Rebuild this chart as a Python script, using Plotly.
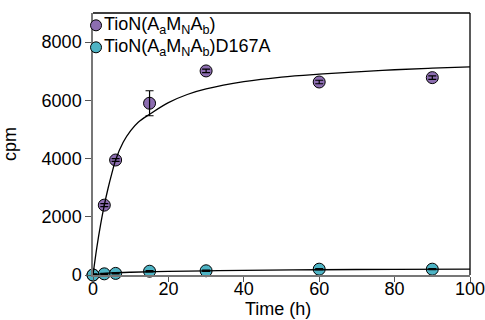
import plotly.graph_objects as go

# Measured data
time_h = [0, 3, 6, 15, 30, 60, 90]
wt_cpm = [0, 2400, 3950, 5900, 7010, 6630, 6780]
wt_err = [40, 50, 50, 430, 60, 60, 60]
mut_cpm = [0, 40, 55, 130, 145, 200, 200]
mut_err = [20, 20, 20, 20, 20, 20, 20]

# Fit curves
fit_t_wt = [0, 1, 2, 3, 4, 5, 6, 8, 10, 12, 15, 20, 25, 30, 40, 50, 60, 70, 80, 90, 100]
fit_wt = [0, 930, 1720, 2400, 2980, 3490, 3950, 4560, 4960, 5250, 5520, 5920, 6200, 6390,
          6640, 6800, 6900, 6980, 7050, 7105, 7150]
fit_t_mut = [0, 2, 5, 10, 20, 30, 40, 60, 80, 100]
fit_mut = [0, 40, 70, 95, 125, 145, 160, 180, 195, 205]

x_ticks = [0, 20, 40, 60, 80, 100]
y_ticks = [0, 2000, 4000, 6000, 8000]

label_wt = "TioN(A<sub>a</sub>M<sub>N</sub>A<sub>b</sub>)"
label_mut = "TioN(A<sub>a</sub>M<sub>N</sub>A<sub>b</sub>)D167A"
labels = [label_wt, label_mut]

purple = "#8C6DB0"
teal = "#4DB3C4"
colors = [purple, teal]
font = "Liberation Sans, Arial, sans-serif"
FS = 18

fig = go.Figure()
fig.add_trace(go.Scatter(x=time_h, y=wt_cpm, mode="markers", name=label_wt,
                         marker=dict(size=12, color=purple, line=dict(color="black", width=1)),
                         cliponaxis=False, showlegend=False))
fig.add_trace(go.Scatter(x=time_h, y=mut_cpm, mode="markers", name=label_mut,
                         marker=dict(size=12, color=teal, line=dict(color="black", width=1)),
                         cliponaxis=False, showlegend=False))
fig.add_trace(go.Scatter(x=fit_t_wt, y=fit_wt, mode="lines", line=dict(color="black", width=1.3, shape="spline"),
                         showlegend=False, hoverinfo="skip"))
fig.add_trace(go.Scatter(x=fit_t_mut, y=fit_mut, mode="lines", line=dict(color="black", width=1.3, shape="spline"),
                         showlegend=False, hoverinfo="skip"))
for ys, es in [(wt_cpm, wt_err), (mut_cpm, mut_err)]:
    fig.add_trace(go.Scatter(x=time_h, y=ys, mode="markers", marker=dict(size=1, opacity=0),
                             error_y=dict(type="data", array=es, visible=True, color="black",
                                          thickness=1.2, width=4),
                             showlegend=False, hoverinfo="skip", cliponaxis=False))

# Frame (top/right) and manual legend (symbol circles + text)
shapes = [
    dict(type="line", xref="paper", yref="paper", x0=0, x1=1, y0=1, y1=1,
         line=dict(color="black", width=1.3)),
    dict(type="line", xref="paper", yref="paper", x0=1, x1=1, y0=0, y1=1,
         line=dict(color="black", width=1.3)),
]
annotations = [
    dict(text="Time (h)", xref="paper", yref="paper", x=0.49, y=-0.128,
         xanchor="center", yanchor="middle", showarrow=False,
         font=dict(size=FS, family=font, color="black")),
]
leg_y = [0.953, 0.869]
for i in range(2):
    shapes.append(dict(type="circle", xref="paper", yref="paper",
                       xsizemode="pixel", ysizemode="pixel",
                       xanchor=0.008, yanchor=leg_y[i], x0=-5.5, x1=5.5, y0=-5.5, y1=5.5,
                       fillcolor=colors[i], line=dict(color="black", width=1)))
    annotations.append(dict(text=labels[i], xref="paper", yref="paper", x=0.024, y=leg_y[i],
                            xanchor="left", yanchor="middle", showarrow=False,
                            font=dict(size=FS, family=font, color="black")))

fig.update_layout(
    width=485, height=320,
    margin=dict(l=93, r=15, t=13, b=45),
    plot_bgcolor="white", paper_bgcolor="white",
    font=dict(family=font, size=FS, color="black"),
    showlegend=False,
    xaxis=dict(range=[0, 100], tickvals=x_ticks, showgrid=False, zeroline=False,
               automargin=False, ticklabeloverflow="allow", ticklabelstandoff=-8,
               showline=True, linecolor="#777777", linewidth=1.5, ticks="outside", ticklen=5,
               tickcolor="#555555", tickfont=dict(size=FS)),
    yaxis=dict(range=[0, 9000], tickvals=y_ticks, showgrid=False, zeroline=False,
               automargin=False,
               showline=True, linecolor="#777777", linewidth=1.5, ticks="outside", ticklen=6,
               tickcolor="#555555", tickfont=dict(size=FS),
               title=dict(text="cpm", font=dict(size=FS), standoff=20)),
    shapes=shapes,
    annotations=annotations,
)

fig.write_html("out.html")
